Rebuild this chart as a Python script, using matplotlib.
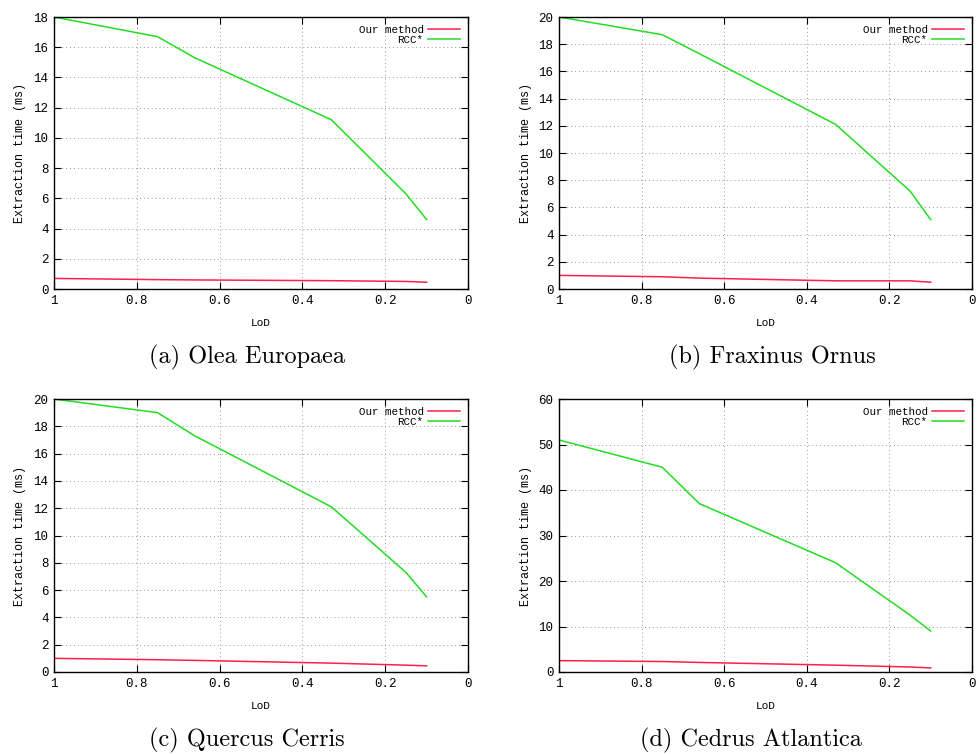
import matplotlib
matplotlib.use("Agg")
import matplotlib.pyplot as plt

# LoD sample positions (same for every tree)
lod = [1.0, 0.75, 0.66, 0.33, 0.15, 0.1]

titles = ["(a) Olea Europaea", "(b) Fraxinus Ornus",
          "(c) Quercus Cerris", "(d) Cedrus Atlantica"]

ours_a = [0.7, 0.62, 0.6, 0.55, 0.5, 0.45]
rcc_a = [18.0, 16.7, 15.3, 11.2, 6.3, 4.6]

ours_b = [1.0, 0.9, 0.8, 0.6, 0.6, 0.5]
rcc_b = [20.0, 18.7, 17.3, 12.1, 7.2, 5.1]

ours_c = [1.0, 0.9, 0.85, 0.65, 0.5, 0.45]
rcc_c = [20.0, 19.0, 17.3, 12.1, 7.3, 5.5]

ours_d = [2.5, 2.3, 2.1, 1.5, 1.1, 0.9]
rcc_d = [51.0, 45.0, 37.0, 24.0, 12.5, 9.0]

ymax = [18, 20, 20, 60]
ystep = [2, 2, 2, 10]
xticks = [1, 0.8, 0.6, 0.4, 0.2, 0]
xticklabels = ["1", "0.8", "0.6", "0.4", "0.2", "0"]

W, H = 977, 754
# axes boxes in pixels: left, top, right, bottom
boxes = [(54, 17, 468, 289), (559, 17, 972, 289),
         (54, 399, 468, 672), (559, 399, 972, 672)]
cap_pos = [(247, 357), (772, 357), (247, 740), (751, 740)]

fig = plt.figure(figsize=(W / 100, H / 100), dpi=100)
mono = "Liberation Mono"

series = [(ours_a, rcc_a), (ours_b, rcc_b), (ours_c, rcc_c), (ours_d, rcc_d)]
for i, (ours, rcc) in enumerate(series):
    l, t, r, b = boxes[i]
    ax = fig.add_axes([l / W, 1 - b / H, (r - l) / W, (b - t) / H])
    ax.plot(lod, ours, color="#ff2048", lw=1.1, label="Our method")
    ax.plot(lod, rcc, color="#22dd22", lw=1.1, label="RCC*")
    ax.set_xlim(1, 0)
    ax.set_ylim(0, ymax[i])
    ax.set_xticks(xticks)
    ax.set_xticklabels(xticklabels, family=mono, fontsize=9)
    yt = list(range(0, ymax[i] + 1, ystep[i]))
    ax.set_yticks(yt)
    ax.set_yticklabels([str(v) for v in yt], family=mono, fontsize=9)
    ax.tick_params(direction="in", length=5, width=0.8, top=True, right=True,
                   pad=4)
    ax.grid(True, color="#999999", linestyle=(0, (1, 3)), lw=0.7)
    for s in ax.spines.values():
        s.set_linewidth(1.0)
    ax.set_xlabel("LoD", family=mono, fontsize=8, labelpad=8)
    ax.set_ylabel("Extraction time (ms)", family=mono, fontsize=8.5, labelpad=5)
    ax.legend(loc="upper right", frameon=False, markerfirst=False,
              prop={"family": mono, "size": 7.8}, handlelength=3.0,
              labelspacing=0.05, borderaxespad=0.3, handletextpad=0.4)
    cx, cy = cap_pos[i]
    fig.text(cx / W, 1 - cy / H, titles[i],
             family="cmr10", fontsize=17.5, ha="center", va="center")

fig.savefig("out.png", dpi=100, facecolor="white")
